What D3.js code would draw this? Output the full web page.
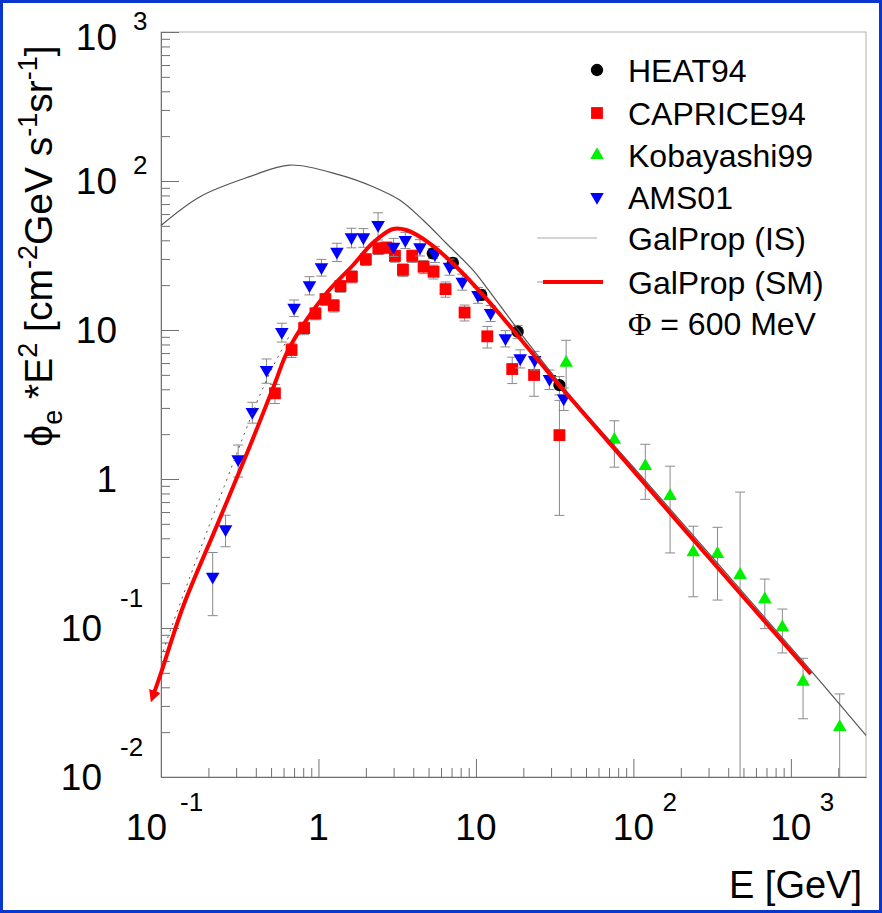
<!DOCTYPE html>
<html>
<head>
<meta charset="utf-8">
<script src="https://cdn.jsdelivr.net/npm/d3@7"></script>
<style>
  body { margin: 0; background: #fff; }
  svg { display: block; font-family: 'Liberation Sans', Arial, Helvetica, sans-serif; }
</style>
</head>
<body>
<div id="chart"></div>
<script>
// ---- data ----
// HEAT94
const heatE = [5.33, 7.13, 10.8, 18.4, 33.9]
const heatFlux = [32.7, 28.2, 17.2, 9.74, 4.27]
const heatErr = [2.5, 2.2, 1.4, 1.0, 0.6]

// CAPRICE94
const capriceE = [0.529, 0.675, 0.811, 0.957, 1.107, 1.25, 1.38, 1.63, 2.00, 2.40, 2.70, 3.06, 3.44, 3.94, 4.65, 5.38, 6.41, 8.47, 11.8, 17.0, 23.4, 33.9]
const capriceFlux = [3.76, 7.34, 10.3, 12.9, 16.1, 14.6, 19.7, 22.8, 29.8, 35.3, 35.7, 31.4, 25.3, 31.4, 26.6, 24.6, 18.8, 13.1, 9.07, 5.47, 4.99, 1.97]
const capriceErr = [0.55, 0.8, 1.0, 1.2, 1.5, 1.4, 1.8, 2.1, 2.7, 3.2, 3.2, 2.9, 2.5, 3.0, 2.7, 2.6, 2.2, 1.6, 1.5, 1.1, 1.4, 1.4]

// Kobayashi99
const kobE = [37.4, 75.7, 119, 171, 240, 342, 476, 683, 883, 1195, 2042]
const kobFlux = [6.03, 1.83, 1.22, 0.769, 0.322, 0.314, 0.227, 0.156, 0.101, 0.0436, 0.0216]
const kobErr = [2.5, 0.63, 0.49, 0.45, 0.16, 0.16, 0.59, 0.057, 0.033, 0.019, 0.0145]

// AMS01
const amsE = [0.213, 0.257, 0.309, 0.380, 0.468, 0.585, 0.700, 0.877, 1.045, 1.31, 1.62, 1.93, 2.39, 3.00, 3.56, 4.41, 5.49, 6.80, 8.19, 10.3, 12.4, 15.4, 19.1, 23.6, 29.3, 36.1]
const amsFlux = [0.221, 0.461, 1.36, 2.82, 5.39, 9.70, 14.1, 20.0, 26.4, 33.5, 41.9, 41.9, 50.7, 36.2, 40.2, 35.9, 32.4, 26.6, 21.1, 17.2, 13.0, 8.80, 6.46, 6.29, 4.69, 3.48]
const amsErr = [0.10, 0.11, 0.33, 0.45, 1.0, 1.4, 1.8, 2.8, 3.4, 4.7, 6.3, 6.0, 10.5, 5.0, 5.0, 4.5, 4.0, 3.3, 2.6, 2.1, 1.6, 1.1, 0.9, 0.9, 0.7, 0.6]

// GalProp (IS) - interstellar
const isE = [0.1, 0.177, 0.366, 0.658, 1.36, 2.22, 3.28, 4.61, 6.48, 9.55, 11.6, 20, 37.4, 100, 1337, 3000]
const isFlux = [50.3, 78.5, 107, 128, 110, 91.6, 74.5, 54.7, 38.2, 25.3, 19.5, 9.0, 3.9, 1.2, 0.052, 0.019]

// GalProp (SM) - solar modulated
const smE = [0.0903, 0.1, 0.138, 0.225, 0.366, 0.529, 0.627, 0.839, 1.12, 1.66, 2.22, 2.97, 3.61, 5.08, 7.5, 11.6, 37.4, 1337]
const smFlux = [0.0365, 0.0499, 0.139, 0.479, 1.65, 4.39, 6.98, 11.7, 17.6, 27.3, 38.5, 47.6, 46.9, 38.2, 26.6, 16.3, 3.76, 0.0491]

// thin dotted curve at low energy
const dotE = [0.1, 0.111, 0.225, 0.468, 0.658]
const dotFlux = [0.063, 0.0875, 0.652, 4.62, 9.25]

// axis ticks
const xTickVals = [0.1, 1, 10, 100, 1000]
const xTickBase = ['10', '1', '10', '10', '10']
const xTickExp = ['-1', '', '', '2', '3']
const yTickVals = [0.01, 0.1, 1, 10, 100, 1000]
const yTickBase = ['10', '10', '1', '10', '10', '10']
const yTickExp = ['-2', '-1', '', '', '2', '3']

// ---- canvas ----
const width = 882,
  height = 913
const frameL = 161, frameR = 866, frameT = 32, frameB = 777

let svg = d3.select('#chart')
  .append('svg')
  .attr('width', width)
  .attr('height', height)

svg.append('rect')
  .attr('width', width)
  .attr('height', height)
  .attr('fill', '#fff')

const x = d3.scaleLog().domain([0.1, 3000]).range([frameL, frameR])
const y = d3.scaleLog().domain([0.01, 1000]).range([frameB, frameT])

// frame
svg.append('rect')
  .attr('x', frameL).attr('y', frameT)
  .attr('width', frameR - frameL).attr('height', frameB - frameT)
  .attr('fill', 'none')
  .attr('stroke', '#b0b0b0')

// minor ticks 2..9 per decade
const minorX = [], minorY = []
for (let d = -1; d <= 3; d++) for (let k = 2; k <= 9; k++) if (k * 10 ** d < 3000) minorX.push(k * 10 ** d)
for (let d = -2; d <= 2; d++) for (let k = 2; k <= 9; k++) minorY.push(k * 10 ** d)

let styleAxis = (g) => {
  g.selectAll('path').attr('stroke', '#707070')
  g.selectAll('line').attr('stroke', '#707070')
}

svg.append('g')
  .attr('transform', `translate(0,${frameB})`)
  .call(d3.axisBottom(x).tickValues(minorX).tickSize(-9).tickSizeOuter(0).tickFormat(''))
  .call(styleAxis)
svg.append('g')
  .attr('transform', `translate(0,${frameB})`)
  .call(d3.axisBottom(x).tickValues(xTickVals).tickSize(-18).tickSizeOuter(0).tickFormat(''))
  .call(styleAxis)
svg.append('g')
  .attr('transform', `translate(${frameL},0)`)
  .call(d3.axisLeft(y).tickValues(minorY).tickSize(-9).tickSizeOuter(0).tickFormat(''))
  .call(styleAxis)
svg.append('g')
  .attr('transform', `translate(${frameL},0)`)
  .call(d3.axisLeft(y).tickValues(yTickVals).tickSize(-18).tickSizeOuter(0).tickFormat(''))
  .call(styleAxis)

// tick labels (ROOT style 10^n)
const labelSize = 37, expSize = 26
xTickVals.forEach((v, i) => {
  const px = x(v)
  const neg = xTickExp[i].startsWith('-')
  svg.append('text')
    .attr('x', neg ? px + 6 : px)
    .attr('y', 840)
    .attr('text-anchor', neg ? 'end' : 'middle')
    .attr('font-size', labelSize)
    .text(xTickBase[i])
  if (xTickExp[i]) {
    svg.append('text')
      .attr('x', neg ? px + 19 : px + 29)
      .attr('y', 811)
      .attr('font-size', expSize)
      .text(xTickExp[i])
  }
})

yTickVals.forEach((v, i) => {
  const cy = Math.max(y(v), 37)
  const neg = yTickExp[i].startsWith('-')
  svg.append('text')
    .attr('x', neg ? 102 : 117)
    .attr('y', cy + 13)
    .attr('text-anchor', 'end')
    .attr('font-size', labelSize)
    .text(yTickBase[i])
  if (yTickExp[i]) {
    svg.append('text')
      .attr('x', neg ? 120 : 133)
      .attr('y', neg ? cy - 21 : cy - 7)
      .attr('font-size', expSize)
      .text(yTickExp[i])
  }
})

// axis titles
svg.append('text')
  .attr('x', 862).attr('y', 898)
  .attr('text-anchor', 'end')
  .attr('font-size', 38)
  .text('E [GeV]')

let yTitle = svg.append('text')
  .attr('transform', 'translate(52,246) rotate(-90)')
  .attr('text-anchor', 'middle')
  .attr('font-size', 39)
const titleParts = [
  ['ϕ', 0, 39], ['e', 10, 27], [' *E', -10, 39], ['2', -15, 27], [' [cm', 15, 39],
  ['-2', -15, 27], ['GeV s', 15, 39], ['-1', -15, 27], ['sr', 15, 39], ['-1', -15, 27], [']', 15, 39]
]
titleParts.forEach(p => {
  yTitle.append('tspan').attr('dy', p[1]).attr('font-size', p[2]).text(p[0])
})

// ---- data series ----
const triUp = d3.symbol().type(d3.symbolTriangle).size(80)
const series = [
  { E: heatE, v: heatFlux, err: heatErr, color: '#000000', sym: d3.symbol().type(d3.symbolCircle).size(120), rot: 0 },
  { E: capriceE, v: capriceFlux, err: capriceErr, color: '#ff0000', sym: d3.symbol().type(d3.symbolSquare).size(140), rot: 0 },
  { E: kobE, v: kobFlux, err: kobErr, color: '#00f000', sym: triUp, rot: 0 },
  { E: amsE, v: amsFlux, err: amsErr, color: '#0000ff', sym: triUp, rot: 180 }
]

series.forEach(s => {
  const pts = s.E.map((e, i) => ({ e: e, v: s.v[i], err: s.err[i] }))
  let g = svg.append('g')
  let eb = g.selectAll('g.eb').data(pts).enter().append('g').attr('class', 'eb')
  eb.append('line')
    .attr('x1', d => x(d.e)).attr('x2', d => x(d.e))
    .attr('y1', d => y(d.v + d.err))
    .attr('y2', d => y(Math.max(d.v - d.err, 0.01)))
    .attr('stroke', '#8a8a8a')
  eb.append('line')
    .attr('x1', d => x(d.e) - 5).attr('x2', d => x(d.e) + 5)
    .attr('y1', d => y(d.v + d.err)).attr('y2', d => y(d.v + d.err))
    .attr('stroke', '#8a8a8a')
  eb.filter(d => d.v - d.err > 0.01).append('line')
    .attr('x1', d => x(d.e) - 5).attr('x2', d => x(d.e) + 5)
    .attr('y1', d => y(d.v - d.err)).attr('y2', d => y(d.v - d.err))
    .attr('stroke', '#8a8a8a')
  g.selectAll('path.m').data(pts).enter().append('path')
    .attr('class', 'm')
    .attr('d', s.sym)
    .attr('transform', d => `translate(${x(d.e)},${y(d.v)}) rotate(${s.rot})`)
    .attr('fill', s.color)
})

// ---- model curves ----
let line = d3.line()
  .x(d => x(d[0]))
  .y(d => y(d[1]))
  .curve(d3.curveCatmullRom.alpha(0.5))

svg.append('path')
  .datum(dotE.map((e, i) => [e, dotFlux[i]]))
  .attr('d', line)
  .attr('fill', 'none')
  .attr('stroke', '#555')
  .attr('stroke-width', 1)
  .attr('stroke-dasharray', '2,5')

svg.append('path')
  .datum(isE.map((e, i) => [e, isFlux[i]]))
  .attr('d', line)
  .attr('fill', 'none')
  .attr('stroke', '#555')
  .attr('stroke-width', 1.2)

svg.append('defs').append('marker')
  .attr('id', 'arrow')
  .attr('viewBox', '0 0 10 10')
  .attr('refX', 2).attr('refY', 5)
  .attr('markerWidth', 3).attr('markerHeight', 3)
  .attr('orient', 'auto-start-reverse')
  .append('path')
  .attr('d', 'M0,0 L10,5 L0,10 z')
  .attr('fill', '#ff0000')

svg.append('path')
  .datum(smE.map((e, i) => [e, smFlux[i]]))
  .attr('d', line)
  .attr('fill', 'none')
  .attr('stroke', '#ff0000')
  .attr('stroke-width', 4)
  .attr('marker-start', 'url(#arrow)')

// ---- legend ----
const legendNames = ['HEAT94', 'CAPRICE94', 'Kobayashi99', 'AMS01', 'GalProp (IS)', 'GalProp (SM)']
const legendY = [70, 113, 155, 197, 238, 282, 323]
let legend = svg.append('g')
series.forEach((s, i) => {
  legend.append('path')
    .attr('d', s.sym)
    .attr('transform', `translate(597,${legendY[i]}) rotate(${s.rot})`)
    .attr('fill', s.color)
})
legend.append('line')
  .attr('x1', 537).attr('x2', 597)
  .attr('y1', legendY[4]).attr('y2', legendY[4])
  .attr('stroke', '#aaa').attr('stroke-width', 1.2)
legend.append('line')
  .attr('x1', 537).attr('x2', 545)
  .attr('y1', legendY[5]).attr('y2', legendY[5])
  .attr('stroke', '#aaa').attr('stroke-width', 1.2)
legend.append('line')
  .attr('x1', 543).attr('x2', 603)
  .attr('y1', legendY[5]).attr('y2', legendY[5])
  .attr('stroke', '#ff0000').attr('stroke-width', 4)
legendNames.forEach((n, i) => {
  legend.append('text')
    .attr('x', 628).attr('y', legendY[i] + 11.5)
    .attr('font-size', 32)
    .text(n)
})
let phiText = legend.append('text')
  .attr('x', 628).attr('y', legendY[6] + 11.5)
  .attr('font-size', 32)
phiText.append('tspan').attr('font-family', "'Liberation Serif', 'Times New Roman', serif").text('Φ')
phiText.append('tspan').text(' = 600 MeV')

// outer blue border
svg.append('rect')
  .attr('x', 1.5).attr('y', 1.5)
  .attr('width', width - 3).attr('height', height - 3)
  .attr('fill', 'none')
  .attr('stroke', '#0a36d0')
  .attr('stroke-width', 3)
</script>
</body>
</html>
